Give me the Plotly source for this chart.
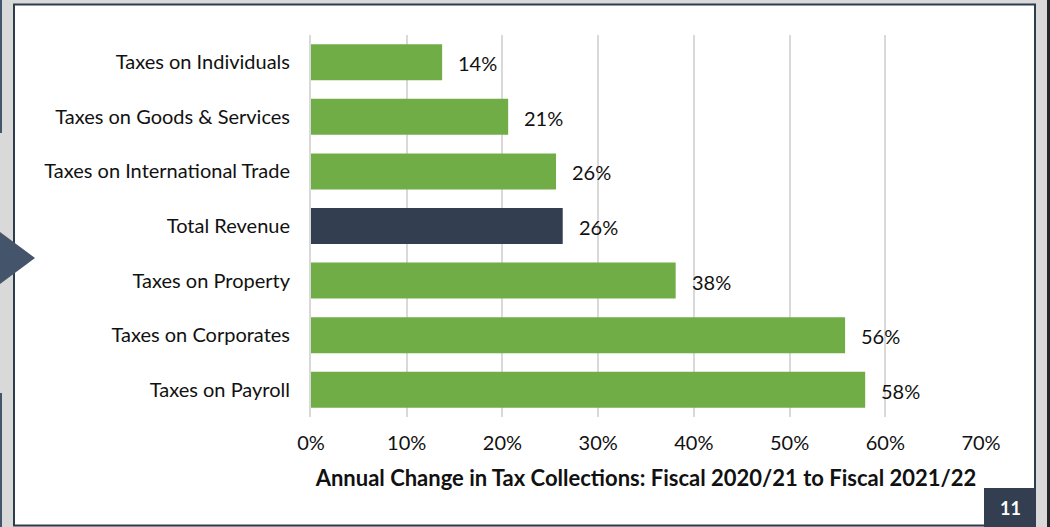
import plotly.graph_objects as go

# ---- data ----
categories = [
    "Taxes on Individuals",
    "Taxes on Goods & Services",
    "Taxes on International Trade",
    "Total Revenue",
    "Taxes on Property",
    "Taxes on Corporates",
    "Taxes on Payroll",
]
values = [0.137, 0.206, 0.256, 0.263, 0.381, 0.558, 0.579]
labels = ["14%", "21%", "26%", "26%", "38%", "56%", "58%"]
highlight = "Total Revenue"
x_ticks = [0, 0.1, 0.2, 0.3, 0.4, 0.5, 0.6, 0.7]
x_tick_text = ["0%", "10%", "20%", "30%", "40%", "50%", "60%", "70%"]
x_title = "Annual Change in Tax Collections: Fiscal 2020/21 to Fiscal 2021/22"
page_number = "11"

# ---- style ----
GREEN = "#70AD47"
DARK = "#333F50"
SLATE = "#44546A"
FONT = "Lato"
FS = 20
TXT = "#111111"

W, H = 1050, 527
L, R, T, B = 311, 69, 35, 110
PW, PH = W - L - R, H - T - B


def px(x):
    return (x - L) / PW


def py(y):
    return (H - B - y) / PH


colors = [DARK if c == highlight else GREEN for c in categories]

fig = go.Figure(
    go.Bar(
        x=values,
        y=categories,
        orientation="h",
        marker=dict(color=colors, line=dict(width=0)),
        width=0.66,
        hoverinfo="skip",
    )
)

for c, v, t in zip(categories, values, labels):
    fig.add_annotation(
        x=v, y=c, xref="x", yref="y", text=t, showarrow=False,
        xanchor="left", yanchor="middle", xshift=14, yshift=-1,
        font=dict(family=FONT, size=FS, color=TXT),
    )

shapes = [
    # white page frame
    dict(type="rect", xref="paper", yref="paper",
         x0=px(14), x1=px(1035), y0=py(525.5), y1=py(4.5),
         fillcolor="white", line=dict(color="#2E3D4E", width=2), layer="below"),
    # left edge dark strokes
    dict(type="line", xref="paper", yref="paper",
         x0=px(1), x1=px(1), y0=py(0), y1=py(133),
         line=dict(color=SLATE, width=2), layer="below"),
    dict(type="line", xref="paper", yref="paper",
         x0=px(1), x1=px(1), y0=py(393), y1=py(527),
         line=dict(color=SLATE, width=2), layer="below"),
    # right edge dark stroke
    dict(type="line", xref="paper", yref="paper",
         x0=px(1048.5), x1=px(1048.5), y0=py(0), y1=py(527),
         line=dict(color="#262626", width=3), layer="below"),
    # triangle marker
    dict(type="path", xref="paper", yref="paper",
         path=f"M {px(0)},{py(232)} L {px(35)},{py(258)} L {px(0)},{py(284)} Z",
         fillcolor=SLATE, line=dict(width=0), layer="above"),
    # page number box
    dict(type="rect", xref="paper", yref="paper",
         x0=px(984), x1=px(1036), y0=py(527), y1=py(488),
         fillcolor=DARK, line=dict(width=0), layer="above"),
]

fig.add_annotation(
    x=px(1010), y=py(508), xref="paper", yref="paper", text=f"<b>{page_number}</b>",
    showarrow=False, xanchor="center", yanchor="middle",
    font=dict(family=FONT, size=18, color="white"),
)

fig.update_layout(
    width=W, height=H,
    margin=dict(l=L, r=R, t=T, b=B, pad=0),
    paper_bgcolor="#D9D9D9",
    plot_bgcolor="white",
    showlegend=False,
    shapes=shapes,
    font=dict(family=FONT, size=FS, color=TXT),
    xaxis=dict(
        range=[0, 0.7],
        tickvals=x_ticks, ticktext=x_tick_text,
        showgrid=True, gridcolor="#D9D9D9", gridwidth=2,
        zeroline=False, showline=False, ticks="",
        ticklabelstandoff=12,
        tickfont=dict(family=FONT, size=FS, color=TXT),
        title=dict(text=f"<b>{x_title}</b>", standoff=17,
                   font=dict(family=FONT, size=22, color=TXT)),
        fixedrange=True,
    ),
    yaxis=dict(
        categoryorder="array", categoryarray=categories,
        autorange="reversed",
        showgrid=False, zeroline=False,
        showline=True, linecolor="#D9D9D9", linewidth=2,
        ticks="", ticklabelstandoff=15,
        tickfont=dict(family=FONT, size=FS, color=TXT),
        fixedrange=True,
    ),
)

fig.write_html("out.html", config={"displayModeBar": False})
